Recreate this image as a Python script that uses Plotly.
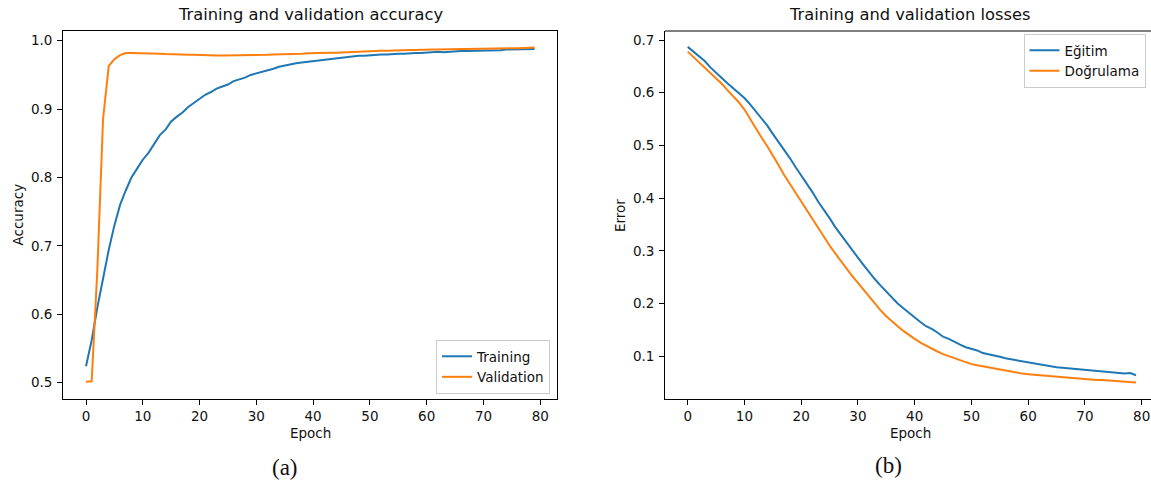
import plotly.graph_objects as go

epochs = list(range(80))

acc_train = [0.524, 0.562, 0.610, 0.655, 0.694, 0.730, 0.760, 0.781, 0.800, 0.813,
             0.826, 0.836, 0.849, 0.862, 0.870, 0.882, 0.889, 0.895, 0.903, 0.909,
             0.916, 0.921, 0.925, 0.930, 0.933, 0.936, 0.941, 0.943, 0.946, 0.950,
             0.952, 0.955, 0.957, 0.959, 0.962, 0.964, 0.965, 0.967, 0.968, 0.969,
             0.971, 0.972, 0.973, 0.973, 0.975, 0.976, 0.977, 0.977, 0.978, 0.978,
             0.979, 0.979, 0.980, 0.980, 0.981, 0.981, 0.981, 0.982, 0.982, 0.982,
             0.983, 0.983, 0.984, 0.983, 0.984, 0.985, 0.985, 0.985, 0.985, 0.986,
             0.986, 0.986, 0.986, 0.986, 0.987, 0.987, 0.987, 0.987, 0.987, 0.988]

acc_val = [0.5015, 0.502, 0.665, 0.885, 0.963, 0.973, 0.979, 0.982, 0.982, 0.982,
           0.982, 0.9815, 0.981, 0.981, 0.9805, 0.980, 0.980, 0.980, 0.9795, 0.9795,
           0.979, 0.979, 0.979, 0.9785, 0.9785, 0.9785, 0.9785, 0.9785, 0.979, 0.979,
           0.979, 0.9795, 0.9795, 0.980, 0.980, 0.9805, 0.9805, 0.981, 0.981, 0.9815,
           0.982, 0.982, 0.982, 0.9825, 0.9825, 0.983, 0.983, 0.9835, 0.984, 0.9845,
           0.985, 0.985, 0.9855, 0.9855, 0.986, 0.986, 0.986, 0.9865, 0.9865, 0.987,
           0.987, 0.987, 0.987, 0.9875, 0.9875, 0.9875, 0.988, 0.988, 0.988, 0.988,
           0.988, 0.9885, 0.9885, 0.9885, 0.989, 0.989, 0.989, 0.9895, 0.9895, 0.990]

loss_train = [0.687, 0.678, 0.670, 0.660, 0.648, 0.637, 0.628, 0.618, 0.609, 0.600,
              0.590, 0.578, 0.565, 0.550, 0.538, 0.522, 0.507, 0.493, 0.476, 0.459,
              0.443, 0.428, 0.411, 0.393, 0.378, 0.362, 0.345, 0.330, 0.315, 0.300,
              0.287, 0.273, 0.259, 0.246, 0.234, 0.222, 0.210, 0.200, 0.191, 0.182,
              0.174, 0.165, 0.157, 0.152, 0.145, 0.137, 0.133, 0.127, 0.122, 0.117,
              0.114, 0.111, 0.106, 0.104, 0.102, 0.099, 0.096, 0.094, 0.092, 0.090,
              0.088, 0.086, 0.085, 0.083, 0.081, 0.079, 0.078, 0.077, 0.076, 0.075,
              0.074, 0.072, 0.071, 0.071, 0.070, 0.068, 0.068, 0.067, 0.068, 0.064]

loss_val = [0.678, 0.668, 0.658, 0.648, 0.637, 0.627, 0.617, 0.605, 0.594, 0.582,
            0.568, 0.550, 0.532, 0.515, 0.499, 0.482, 0.463, 0.444, 0.427, 0.410,
            0.394, 0.377, 0.360, 0.343, 0.326, 0.310, 0.295, 0.280, 0.265, 0.252,
            0.239, 0.226, 0.212, 0.199, 0.187, 0.176, 0.166, 0.157, 0.148, 0.140,
            0.133, 0.126, 0.120, 0.114, 0.109, 0.104, 0.100, 0.096, 0.092, 0.088,
            0.085, 0.083, 0.081, 0.078, 0.076, 0.074, 0.072, 0.070, 0.069, 0.067,
            0.066, 0.065, 0.064, 0.063, 0.062, 0.061, 0.060, 0.059, 0.058, 0.057,
            0.057, 0.056, 0.055, 0.055, 0.054, 0.053, 0.053, 0.052, 0.051, 0.050]

x_ticks = [0, 10, 20, 30, 40, 50, 60, 70, 80]
acc_ticks = [0.5, 0.6, 0.7, 0.8, 0.9, 1.0]
loss_ticks = [0.1, 0.2, 0.3, 0.4, 0.5, 0.6, 0.7]

W, H = 1151, 483
BLUE, ORANGE = "#1f77b4", "#ff7f0e"
FONT = "DejaVu Sans"

def px(x):
    return x / W

def py(y):
    return 1 - y / H

fig = go.Figure()
fig.add_trace(go.Scatter(x=epochs, y=acc_train, mode="lines", name="Training",
                         line=dict(color=BLUE, width=2), xaxis="x", yaxis="y", legend="legend"))
fig.add_trace(go.Scatter(x=epochs, y=acc_val, mode="lines", name="Validation",
                         line=dict(color=ORANGE, width=2), xaxis="x", yaxis="y", legend="legend"))
fig.add_trace(go.Scatter(x=epochs, y=loss_train, mode="lines", name="Eğitim",
                         line=dict(color=BLUE, width=2), xaxis="x2", yaxis="y2", legend="legend2"))
fig.add_trace(go.Scatter(x=epochs, y=loss_val, mode="lines", name="Doğrulama",
                         line=dict(color=ORANGE, width=2), xaxis="x2", yaxis="y2", legend="legend2"))

ydom = [py(398.7), py(31)]
axis_common = dict(showgrid=False, zeroline=False, showline=True, linecolor="black", linewidth=1.1,
                   ticks="outside", ticklen=4.8, tickwidth=1.1, tickcolor="black",
                   tickfont=dict(family=FONT, size=13.5, color="#111"))

fig.update_layout(
    width=W, height=H,
    margin=dict(l=0, r=0, t=0, b=0, autoexpand=False),
    paper_bgcolor="white", plot_bgcolor="white",
    font=dict(family=FONT, color="#111"),
    xaxis=dict(domain=[px(63), px(557)], range=[-4.05, 82.95], tickvals=x_ticks,
               anchor="y", mirror=True, **axis_common),
    yaxis=dict(domain=ydom, range=[0.4766, 1.0142], tickvals=acc_ticks, tickformat=".1f",
               anchor="x", mirror=True, ticklabelstandoff=2, **axis_common),
    xaxis2=dict(domain=[px(665), 1.0], range=[-4.0, 81.64], tickvals=x_ticks,
                anchor="y2", **axis_common),
    yaxis2=dict(domain=ydom, range=[0.0194, 0.7171], tickvals=loss_ticks, tickformat=".1f",
                anchor="x2", ticklabelstandoff=2, **axis_common),
    legend=dict(x=px(550), y=py(394), xanchor="right", yanchor="bottom",
                bgcolor="rgba(255,255,255,0.8)", bordercolor="#cccccc", borderwidth=1,
                entrywidth=75, entrywidthmode="pixels",
                font=dict(family=FONT, size=13.5, color="#111")),
    legend2=dict(x=px(1023.5), y=py(34), xanchor="left", yanchor="top",
                 bgcolor="rgba(255,255,255,0.8)", bordercolor="#cccccc", borderwidth=1,
                 entrywidth=95, entrywidthmode="pixels",
                 font=dict(family=FONT, size=13.5, color="#111")),
)

# top border of the right panel (its right side is cropped off in the original)
fig.add_shape(type="line", xref="x2 domain", yref="y2 domain", x0=0, x1=1, y0=1, y1=1,
              line=dict(color="black", width=1.1))

def ann(text, x, y, size, family=FONT, angle=0):
    fig.add_annotation(text=text, x=px(x), y=py(y), xref="paper", yref="paper",
                       xanchor="center", yanchor="middle", showarrow=False, textangle=angle,
                       font=dict(family=family, size=size, color="#111"))

ann("Training and validation accuracy", 310, 15, 16.3)
ann("Training and validation losses", 910, 15, 16.3)
ann("Epoch", 310, 433, 13.5)
ann("Epoch", 910, 433, 13.5)
ann("Accuracy", 17.5, 215, 13.5, angle=-90)
ann("Error", 620, 216, 13.5, angle=-90)
ann("(a)", 285, 467, 23, family="Liberation Serif")
ann("(b)", 888, 465, 23, family="Liberation Serif")

fig.write_html("out.html", config={"displayModeBar": False},
               post_script="document.body.style.margin='0';document.body.style.overflow='hidden';")
